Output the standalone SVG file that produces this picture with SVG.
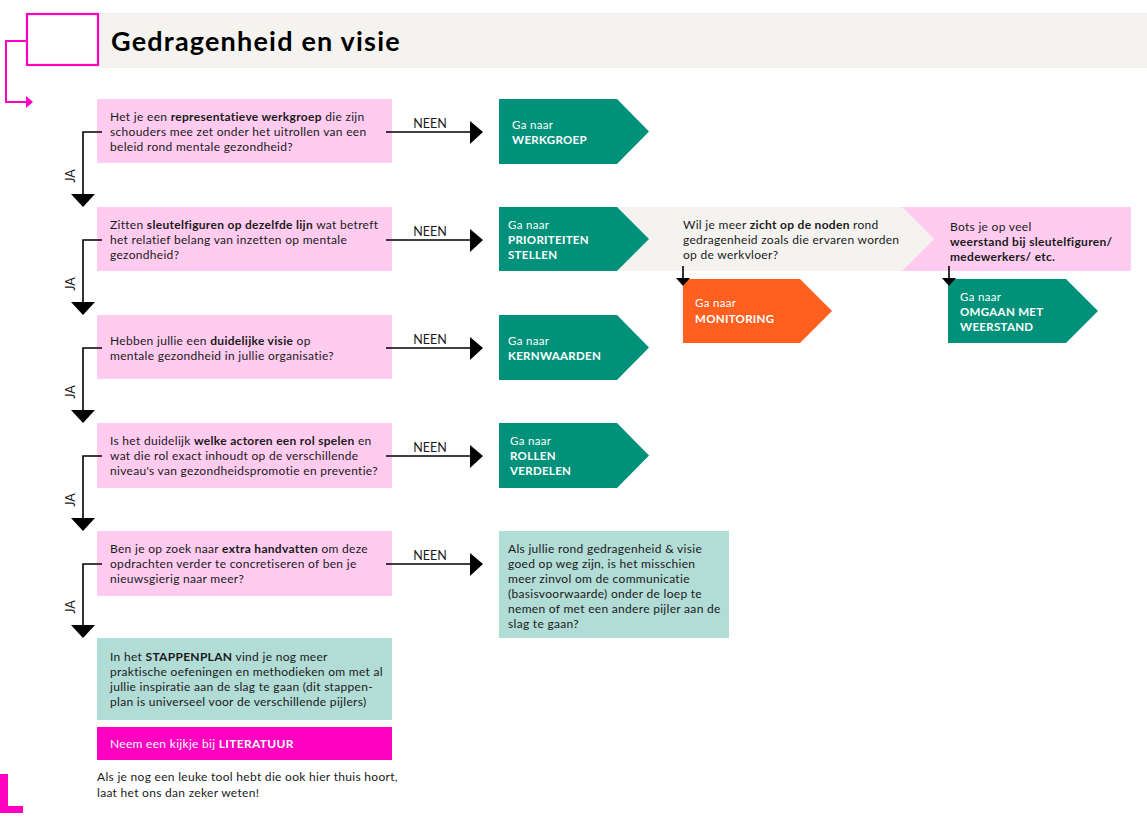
<svg xmlns="http://www.w3.org/2000/svg" width="1147" height="819" viewBox="0 0 1147 819">
<style>
text{font-family:Lato,"Open Sans","Liberation Sans",sans-serif;fill:#1a1a1a;font-size:12px;letter-spacing:0.3px}
.b{font-weight:bold}
.q{fill:#ffccf0}
.g{fill:#00917a}
.w{fill:#ffffff;font-size:11.5px}
.wb{fill:#ffffff;font-weight:bold;font-size:11.5px}
.ln{stroke:#000;stroke-width:1.6;fill:none}
.hd{fill:#000}
.lbl{font-size:12.5px;letter-spacing:0}
</style>
<rect x="0" y="0" width="1147" height="819" fill="#ffffff"/>
<g id="title">
<rect x="99" y="13" width="1048" height="55" fill="#f4f3f0"/>
<rect x="27" y="14" width="71" height="51" fill="none" stroke="#ff00c0" stroke-width="2.2"/>
<polyline points="27,41 6,41 6,102 28,102" fill="none" stroke="#ff00c0" stroke-width="2"/>
<polygon points="26,96 33,102 26,108" fill="#ff00c0"/>
<text x="111" y="51" class="b" style="font-size:27px;letter-spacing:1.2px;fill:#000">Gedragenheid en visie</text>
</g>
<g id="band">
<polygon points="617,207 902,207 934,239 902,271 617,271 649,239" fill="#f4f3f0"/>
<polygon points="902,207 1131,207 1131,271 902,271 934,239" fill="#ffccf0"/>
</g>
<g id="q1"><rect class="q" x="97" y="99" width="295" height="64"/>
<text x="110" y="121">Het je een <tspan class="b">representatieve werkgroep</tspan> die zijn</text>
<text x="110" y="136">schouders mee zet onder het uitrollen van een</text>
<text x="110" y="151">beleid rond mentale gezondheid?</text></g>
<g id="q2"><rect class="q" x="97" y="207" width="295" height="64"/>
<text x="110" y="229">Zitten <tspan class="b">sleutelfiguren op dezelfde lijn</tspan> wat betreft</text>
<text x="110" y="244">het relatief belang van inzetten op mentale</text>
<text x="110" y="259">gezondheid?</text></g>
<g id="q3"><rect class="q" x="97" y="315" width="295" height="64"/>
<text x="110" y="345">Hebben jullie een <tspan class="b">duidelijke visie</tspan> op</text>
<text x="110" y="360">mentale gezondheid in jullie organisatie?</text></g>
<g id="q4"><rect class="q" x="97" y="423" width="295" height="65"/>
<text x="110" y="445">Is het duidelijk <tspan class="b">welke actoren een rol spelen</tspan> en</text>
<text x="110" y="460">wat die rol exact inhoudt op de verschillende</text>
<text x="110" y="475">niveau's van gezondheidspromotie en preventie?</text></g>
<g id="q5"><rect class="q" x="97" y="531" width="295" height="65"/>
<text x="110" y="553">Ben je op zoek naar <tspan class="b">extra handvatten</tspan> om deze</text>
<text x="110" y="568">opdrachten verder te concretiseren of ben je</text>
<text x="110" y="583">nieuwsgierig naar meer?</text></g>
<g id="stappenplan"><rect x="97" y="638" width="295" height="82" fill="#b2dcd6"/>
<text x="110" y="661">In het <tspan class="b">STAPPENPLAN</tspan> vind je nog meer</text>
<text x="110" y="676">praktische oefeningen en methodieken om met al</text>
<text x="110" y="691">jullie inspiratie aan de slag te gaan (dit stappen-</text>
<text x="110" y="706">plan is universeel voor de verschillende pijlers)</text></g>
<g id="literatuur"><rect x="97" y="727" width="295" height="33" fill="#ff00c0"/>
<text x="110" y="748" style="fill:#ffffff">Neem een kijkje bij <tspan class="b">LITERATUUR</tspan></text></g>
<g id="footer">
<text x="97" y="781">Als je nog een leuke tool hebt die ook hier thuis hoort,</text>
<text x="97" y="797">laat het ons dan zeker weten!</text>
<rect x="0" y="774" width="8" height="39" fill="#ff00c0"/>
<rect x="0" y="806" width="23" height="7" fill="#ff00c0"/>
</g>
<g id="n-werkgroep"><polygon class="g" points="499,99 617,99 649,131.5 617,164 499,164"/>
<text x="512" y="129" class="w">Ga naar</text><text x="512" y="144" class="wb">WERKGROEP</text></g>
<g id="n-prioriteiten"><polygon class="g" points="499,207 617,207 649,239 617,271 499,271"/>
<text x="508" y="229" class="w">Ga naar</text><text x="508" y="244" class="wb">PRIORITEITEN</text><text x="508" y="259" class="wb">STELLEN</text></g>
<g id="n-noden">
<text x="683" y="229">Wil je meer <tspan class="b">zicht op de noden</tspan> rond</text>
<text x="683" y="244">gedragenheid zoals die ervaren worden</text>
<text x="683" y="259">op de werkvloer?</text></g>
<g id="n-weerstand">
<text x="950" y="231">Bots je op veel</text>
<text x="950" y="246" class="b">weerstand bij sleutelfiguren/</text>
<text x="950" y="261" class="b">medewerkers/ etc.</text></g>
<g id="n-monitoring"><polygon points="683,279 800,279 832,311 800,343 683,343" fill="#ff5f1f"/>
<text x="695" y="307" class="w">Ga naar</text><text x="695" y="323" class="wb">MONITORING</text></g>
<g id="n-omgaan"><polygon class="g" points="948,279 1066,279 1098,311 1066,343 948,343"/>
<text x="960" y="301" class="w">Ga naar</text><text x="960" y="316" class="wb">OMGAAN MET</text><text x="960" y="331" class="wb">WEERSTAND</text></g>
<g id="n-kernwaarden"><polygon class="g" points="499,315 617,315 649,347.5 617,380 499,380"/>
<text x="508" y="345" class="w">Ga naar</text><text x="508" y="360" class="wb">KERNWAARDEN</text></g>
<g id="n-rollen"><polygon class="g" points="499,423 617,423 649,455.5 617,488 499,488"/>
<text x="510" y="445" class="w">Ga naar</text><text x="510" y="460" class="wb">ROLLEN</text><text x="510" y="475" class="wb">VERDELEN</text></g>
<g id="n-communicatie"><rect x="499" y="531" width="230" height="107" fill="#b2dcd6"/>
<text x="508" y="553">Als jullie rond gedragenheid &amp; visie</text>
<text x="508" y="568">goed op weg zijn, is het misschien</text>
<text x="508" y="583">meer zinvol om de communicatie</text>
<text x="508" y="598">(basisvoorwaarde) onder de loep te</text>
<text x="508" y="613">nemen of met een andere pijler aan de</text>
<text x="508" y="628">slag te gaan?</text></g>
<g id="connectors">
<polyline class="ln" points="102,132 83,132 83,195"/><polygon class="hd" points="71,194 95,194 83,207"/>
<polyline class="ln" points="102,240 83,240 83,303"/><polygon class="hd" points="71,302 95,302 83,315"/>
<polyline class="ln" points="102,348 83,348 83,411"/><polygon class="hd" points="71,410 95,410 83,423"/>
<polyline class="ln" points="102,456 83,456 83,519"/><polygon class="hd" points="71,518 95,518 83,531"/>
<polyline class="ln" points="102,564 83,564 83,626"/><polygon class="hd" points="71,625 95,625 83,638"/>
<text class="lbl" transform="translate(75,176) rotate(-90)" text-anchor="middle">JA</text>
<text class="lbl" transform="translate(75,284) rotate(-90)" text-anchor="middle">JA</text>
<text class="lbl" transform="translate(75,392) rotate(-90)" text-anchor="middle">JA</text>
<text class="lbl" transform="translate(75,500) rotate(-90)" text-anchor="middle">JA</text>
<text class="lbl" transform="translate(75,607) rotate(-90)" text-anchor="middle">JA</text>
<line class="ln" x1="386" y1="132" x2="472" y2="132"/><polygon class="hd" points="470,121 483,132 470,144"/>
<line class="ln" x1="386" y1="240" x2="472" y2="240"/><polygon class="hd" points="470,229 483,240 470,252"/>
<line class="ln" x1="386" y1="348" x2="472" y2="348"/><polygon class="hd" points="470,337 483,348 470,360"/>
<line class="ln" x1="386" y1="456" x2="472" y2="456"/><polygon class="hd" points="470,445 483,456 470,468"/>
<line class="ln" x1="386" y1="564" x2="472" y2="564"/><polygon class="hd" points="470,553 483,564 470,576"/>
<text class="lbl" x="430" y="128" text-anchor="middle">NEEN</text>
<text class="lbl" x="430" y="236" text-anchor="middle">NEEN</text>
<text class="lbl" x="430" y="344" text-anchor="middle">NEEN</text>
<text class="lbl" x="430" y="452" text-anchor="middle">NEEN</text>
<text class="lbl" x="430" y="560" text-anchor="middle">NEEN</text>
<line class="ln" x1="683" y1="266" x2="683" y2="279"/><polygon class="hd" points="676,278 690,278 683,286"/>
<line class="ln" x1="949" y1="266" x2="949" y2="279"/><polygon class="hd" points="942,278 956,278 949,286"/>
</g>
</svg>
